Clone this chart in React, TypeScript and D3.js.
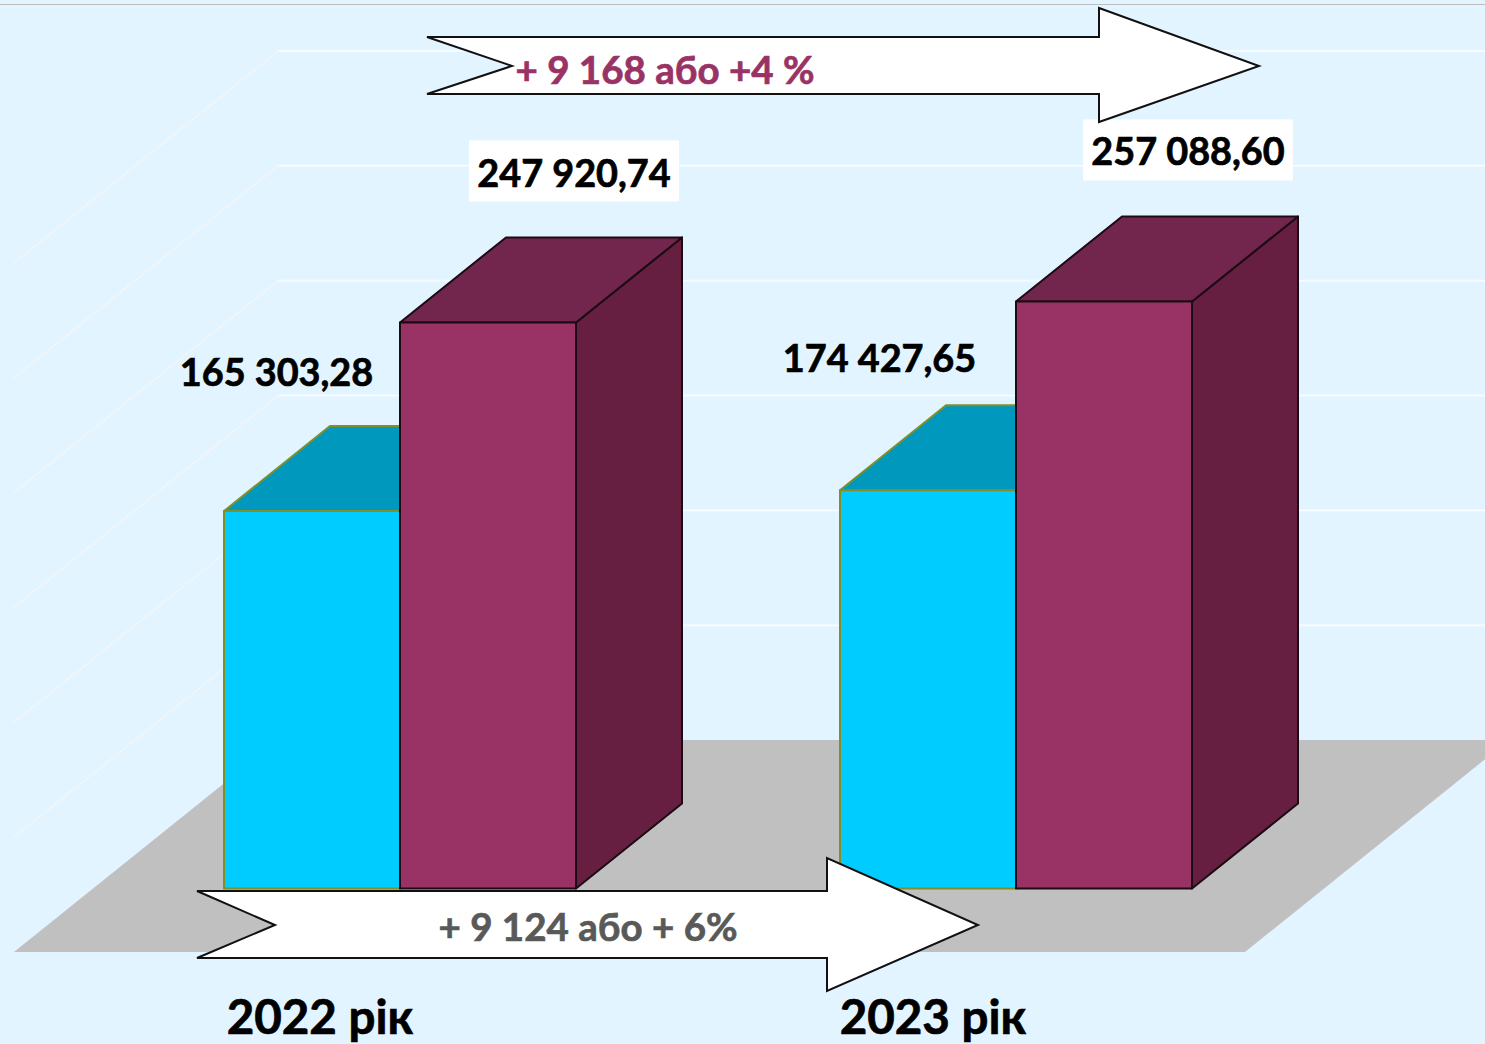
import React, { useEffect, useRef } from 'react';
import * as d3 from 'd3';

const years = ['2022 рік', '2023 рік'];
const seriesNames = ['first', 'second'];
const firstValues = [165303.28, 174427.65];
const secondValues = [247920.74, 257088.6];
const firstLabels = ['165 303,28', '174 427,65'];
const secondLabels = ['247 920,74', '257 088,60'];
const gridTicks = [50000, 100000, 150000, 200000, 250000, 300000];

const width = 1485;
const height = 1044;
const fontFamily = 'Lato, "Noto Sans", sans-serif';

// 3d offsets of the depth of the bars and of the walls
const barDepthX = 106;
const barDepthY = -85;
const wallDepthX = 264;
const wallDepthY = 212;

const poly = (pts: [number, number][]) => d3.line()(pts) + 'Z';

export default () => {
  const svgRef = useRef<SVGSVGElement>(null);

  useEffect(() => {
    if (!svgRef.current) {
      return;
    }
    const svg = d3.select(svgRef.current);
    svg.selectAll('*').remove();

    const x0 = d3.scaleBand<string>().domain(years).range([224, 1192]).paddingInner(3 / 7);
    const x1 = d3.scaleBand<string>().domain(seriesNames).range([0, x0.bandwidth()]);
    const barY = d3.scaleLinear().domain([0, 300000]).range([888.5, 203.5]);
    const wallY = d3.scaleLinear().domain([0, 300000]).range([740, 51]);

    svg.append('rect').attr('width', width).attr('height', height).attr('fill', '#e2f4ff');
    svg.append('line').attr('x1', 0).attr('x2', width).attr('y1', 4.5).attr('y2', 4.5)
      .attr('stroke', '#bdbdbd').attr('stroke-width', 1);

    // walls
    const wallX = 278;
    const grid = svg.append('g');
    grid.selectAll('line.back')
      .data(gridTicks)
      .enter()
      .append('line')
      .attr('x1', wallX)
      .attr('x2', width)
      .attr('y1', d => wallY(d))
      .attr('y2', d => wallY(d))
      .attr('stroke', '#f6fbff')
      .attr('stroke-width', 2);
    grid.selectAll('line.side')
      .data(gridTicks)
      .enter()
      .append('line')
      .attr('x1', wallX)
      .attr('x2', wallX - wallDepthX)
      .attr('y1', d => wallY(d))
      .attr('y2', d => wallY(d) + wallDepthY)
      .attr('stroke', '#f3f5f6')
      .attr('stroke-width', 2)
      .attr('stroke-dasharray', '3,1');

    // floor
    svg.append('path')
      .attr('d', poly([
        [wallX, wallY(0)],
        [1509, wallY(0)],
        [1509 - wallDepthX, wallY(0) + wallDepthY],
        [wallX - wallDepthX, wallY(0) + wallDepthY]
      ]))
      .attr('fill', '#c0c0c0');

    const drawBar = (
      x: number,
      w: number,
      value: number,
      front: string,
      top: string,
      side: string,
      stroke: string,
      strokeWidth: number
    ) => {
      const yTop = barY(value);
      const yBase = barY(0);
      const g = svg.append('g')
        .attr('stroke', stroke)
        .attr('stroke-width', strokeWidth)
        .attr('stroke-linejoin', 'round');
      g.append('path').attr('fill', side).attr('d', poly([
        [x + w, yTop],
        [x + w + barDepthX, yTop + barDepthY],
        [x + w + barDepthX, yBase + barDepthY],
        [x + w, yBase]
      ]));
      g.append('path').attr('fill', top).attr('d', poly([
        [x, yTop],
        [x + barDepthX, yTop + barDepthY],
        [x + w + barDepthX, yTop + barDepthY],
        [x + w, yTop]
      ]));
      g.append('rect')
        .attr('x', x)
        .attr('y', yTop)
        .attr('width', w)
        .attr('height', yBase - yTop)
        .attr('fill', front);
    };

    const label = (
      text: string,
      x: number,
      y: number,
      size: number,
      fill: string
    ) => svg.append('text')
      .text(text)
      .attr('x', x)
      .attr('y', y)
      .attr('text-anchor', 'middle')
      .attr('font-family', fontFamily)
      .attr('font-weight', 700)
      .attr('font-size', size)
      .attr('fill', fill)
      .attr('stroke', fill)
      .attr('stroke-width', 0.7);

    years.forEach((year, i) => {
      const gx = x0(year) || 0;
      const xa = gx + (x1('first') || 0);
      const xb = gx + (x1('second') || 0);
      drawBar(xa, x1.bandwidth(), firstValues[i], '#00ccff', '#0099bd', '#007f9f', '#7f8f2a', 2);
      drawBar(xb, x1.bandwidth(), secondValues[i], '#993366', '#73264d', '#661f40', '#1c0a14', 2);
    });

    // white boxes behind the second series labels
    const boxOffsets = [69, 67];
    years.forEach((year, i) => {
      const xb = (x0(year) || 0) + (x1('second') || 0);
      svg.append('rect')
        .attr('x', xb + boxOffsets[i])
        .attr('y', barY(secondValues[i]) - 182)
        .attr('width', 210)
        .attr('height', 61)
        .attr('fill', '#ffffff');
    });

    // arrows
    const arrow = (xs: number, notch: number, xn: number, xe: number, yTop: number, yBot: number, yHeadTop: number, yHeadBot: number, yMid: number) => {
      svg.append('path')
        .attr('d', poly([
          [xs, yTop],
          [notch, yMid],
          [xs, yBot],
          [xn, yBot],
          [xn, yHeadBot],
          [xe, yMid],
          [xn, yHeadTop],
          [xn, yTop]
        ]))
        .attr('fill', '#ffffff')
        .attr('stroke', '#111111')
        .attr('stroke-width', 2)
        .attr('stroke-linejoin', 'miter');
    };
    arrow(427, 512, 1099, 1259, 37, 94, 8, 122, 66);
    arrow(197, 275, 827, 978, 891, 958, 858, 991, 925);

    label('+ 9 168 або +4 %', 665, 84, 38.5, '#993366');
    label('+ 9 124 або + 6%', 588, 941, 38.5, '#595959');

    // value labels
    label(secondLabels[0], 574, barY(secondValues[0]) - 135, 37.8, '#000000');
    label(secondLabels[1], 1188, barY(secondValues[1]) - 136, 37.8, '#000000');
    label(firstLabels[0], (x0(years[0]) || 0) + 52.5, barY(firstValues[0]) - 125, 37.8, '#000000');
    label(firstLabels[1], (x0(years[1]) || 0) + 39.5, barY(firstValues[1]) - 118, 37.8, '#000000');

    // category labels
    label(years[0], 320, 1034, 47.5, '#000000');
    label(years[1], 933, 1034, 47.5, '#000000');
  }, []);

  return (
    <svg
      ref={svgRef}
      width={width}
      height={height}
      style={{ position: 'absolute', left: 0, top: 0, display: 'block' }}
    />
  );
};
